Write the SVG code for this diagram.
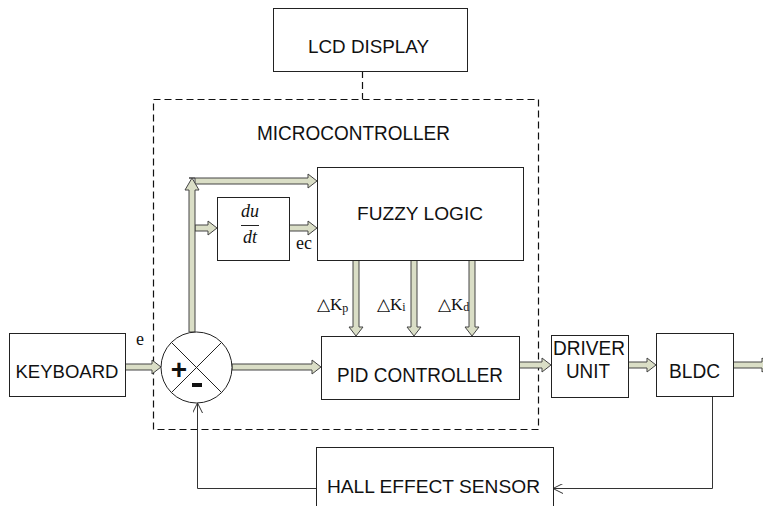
<svg xmlns="http://www.w3.org/2000/svg" width="763" height="506" viewBox="0 0 763 506">
<style>
.box{fill:#fff;stroke:#222;stroke-width:1}
.sans{font-family:"Liberation Sans",Arial,sans-serif;fill:#111}
.serif{font-family:"Liberation Serif","Times New Roman",serif;fill:#111}
.fat{fill:#dadec6;stroke:#444;stroke-width:1}
.thin{fill:none;stroke:#333;stroke-width:1}
.dash{fill:none;stroke:#111;stroke-width:1.2;stroke-dasharray:7,4}
</style>
<defs>
<marker id="open" viewBox="0 0 10 10" refX="10" refY="5" markerWidth="10" markerHeight="10" orient="auto" markerUnits="userSpaceOnUse">
<path d="M0,0 L10,5 L0,10" fill="none" stroke="#333" stroke-width="1"/>
</marker>
</defs>
<rect width="763" height="506" fill="#fff"/>

<g id="microcontroller">
<path class="dash" d="M153.5,99.5 H538.5 V429.5 H153.5 Z"/>
<text class="sans" x="353.5" y="140" font-size="20" text-anchor="middle" textLength="193" lengthAdjust="spacingAndGlyphs">MICROCONTROLLER</text>
</g>

<g id="connectors">
<path class="dash" d="M362.5,71 V99"/>
<polygon class="fat" points="125,364 152,364 152,360 161,367 152,374 152,370 125,370"/>
<polygon class="fat" points="232,364 312,364 312,360 321,367 312,374 312,370 232,370"/>
<polygon class="fat" points="519,362 542,362 542,358 551,365 542,372 542,368 519,368"/>
<polygon class="fat" points="628,362 647,362 647,358 656,365 647,372 647,368 628,368"/>
<polygon class="fat" points="733,362 762,362 762,358 772,365 762,372 762,368 733,368"/>
<polygon class="fat" points="189,178 308,178 308,174 317,181 308,188 308,184 195,184 195,178"/>
<polygon class="fat" points="195,225 208,225 208,221 217,228 208,235 208,231 195,231"/>
<polygon class="fat" points="289,225 308,225 308,221 317,228 308,235 308,231 289,231"/>
<polygon class="fat" points="189,332 189,190 185,190 192,178 199,190 195,190 195,332"/>
<polygon class="fat" points="353,260 353,327 349,327 356,336 363,327 359,327 359,260"/>
<polygon class="fat" points="411,260 411,327 407,327 414,336 421,327 417,327 417,260"/>
<polygon class="fat" points="469,260 469,327 465,327 472,336 479,327 475,327 475,260"/>
<polyline class="thin" points="316,488.5 197.5,488.5 197.5,403" marker-end="url(#open)"/>
<polyline class="thin" points="712.5,396 712.5,488.5 553,488.5" marker-end="url(#open)"/>
</g>

<g id="lcd">
<rect class="box" x="273.5" y="8.5" width="194" height="63"/>
<text class="sans" x="368.5" y="53" font-size="19" text-anchor="middle" textLength="121" lengthAdjust="spacingAndGlyphs">LCD DISPLAY</text>
</g>

<g id="fuzzy">
<rect class="box" x="317.5" y="167.5" width="206" height="93"/>
<text class="sans" x="420" y="220" font-size="19" text-anchor="middle" textLength="126" lengthAdjust="spacingAndGlyphs">FUZZY LOGIC</text>
</g>

<g id="dudt">
<rect class="box" x="217.5" y="197.5" width="72" height="63"/>
<text class="serif" x="250" y="217" font-size="18" font-style="italic" text-anchor="middle">du</text>
<line x1="241" y1="225.5" x2="259" y2="225.5" stroke="#222" stroke-width="1"/>
<text class="serif" x="250" y="243" font-size="18" font-style="italic" text-anchor="middle">dt</text>
</g>

<g id="labels">
<text class="serif" x="136" y="345" font-size="18">e</text>
<text class="serif" x="296" y="249" font-size="18">ec</text>
<text class="serif" x="317" y="310" font-size="17">△K<tspan font-size="12" dy="2">p</tspan></text>
<text class="serif" x="377" y="310" font-size="17">△K<tspan font-size="12" dy="1">i</tspan></text>
<text class="serif" x="438" y="310" font-size="17">△K<tspan font-size="12" dy="1">d</tspan></text>
</g>

<g id="keyboard">
<rect class="box" x="9.5" y="333.5" width="116" height="63"/>
<text class="sans" x="67" y="378" font-size="19" text-anchor="middle" textLength="103" lengthAdjust="spacingAndGlyphs">KEYBOARD</text>
</g>

<g id="sum">
<circle cx="196.5" cy="367.5" r="35.5" fill="#fff" stroke="#222" stroke-width="1"/>
<line x1="171.4" y1="342.4" x2="221.6" y2="392.6" stroke="#222" stroke-width="1"/>
<line x1="221.6" y1="342.4" x2="171.4" y2="392.6" stroke="#222" stroke-width="1"/>
<text class="sans" x="179" y="379" font-size="28" font-weight="bold" text-anchor="middle">+</text>
<rect x="192" y="383" width="10" height="4" fill="#111"/>
</g>

<g id="pid">
<rect class="box" x="321.5" y="336.5" width="198" height="63"/>
<text class="sans" x="420" y="382" font-size="20" text-anchor="middle" textLength="166" lengthAdjust="spacingAndGlyphs">PID CONTROLLER</text>
</g>

<g id="driver">
<rect class="box" x="551.5" y="335.5" width="77" height="62"/>
<text class="sans" x="589" y="355" font-size="20" text-anchor="middle" textLength="72" lengthAdjust="spacingAndGlyphs">DRIVER</text>
<text class="sans" x="588" y="378" font-size="20" text-anchor="middle" textLength="44" lengthAdjust="spacingAndGlyphs">UNIT</text>
</g>

<g id="bldc">
<rect class="box" x="656.5" y="333.5" width="77" height="63"/>
<text class="sans" x="694.5" y="378" font-size="20" text-anchor="middle" textLength="51" lengthAdjust="spacingAndGlyphs">BLDC</text>
</g>

<g id="hall">
<rect class="box" x="316.5" y="447.5" width="237" height="70"/>
<text class="sans" x="433.5" y="493" font-size="19" text-anchor="middle" textLength="213" lengthAdjust="spacingAndGlyphs">HALL EFFECT SENSOR</text>
</g>
</svg>
